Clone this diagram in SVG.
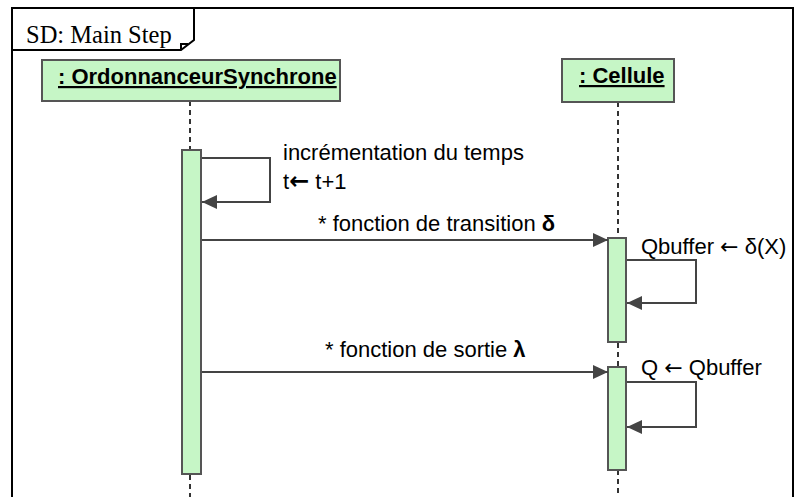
<svg xmlns="http://www.w3.org/2000/svg" width="794" height="497" viewBox="0 0 794 497">
<style>
.frame{fill:none;stroke:#000;stroke-width:2}
.head{fill:#c6f6c6;stroke:#555;stroke-width:2}
.act{fill:#c6f6c6;stroke:#555;stroke-width:2}
.life{stroke:#333;stroke-width:2;stroke-dasharray:5,4;fill:none}
.msg{stroke:#444;stroke-width:2;fill:none}
.lbl{font-family:"Liberation Sans",Arial,sans-serif;font-size:22px;fill:#000}
.ar{font-family:"DejaVu Sans",sans-serif}
.hl{font-family:"Liberation Sans",Arial,sans-serif;font-size:22px;font-weight:bold;fill:#000;text-decoration:underline}
.title{font-family:"Liberation Serif","Times New Roman",serif;font-size:24.5px;fill:#000}
</style>
<defs>
<marker id="arr" markerWidth="15" markerHeight="14" refX="15" refY="7" orient="auto" markerUnits="userSpaceOnUse">
<path d="M0,0 L15,7 L0,14 Z" fill="#444"/>
</marker>
</defs>
<g id="frame">
<path class="frame" d="M12,497 V8 H793 V497"/>
<path class="frame" d="M12,50 H181 L194,40 V8"/>
<path class="frame" d="M181,50 V44 H188" stroke-width="1.5"/>
<text class="title" x="26" y="43">SD: Main Step</text>
</g>
<g id="lifelines">
<path class="life" d="M190,101 V150 M190,475 V497"/>
<path class="life" d="M618,102 V238 M618,343 V367 M618,470 V497"/>
</g>
<g id="ordonnanceur">
<rect class="head" x="42" y="60" width="298" height="41"/>
<text class="hl" x="58" y="84">: OrdonnanceurSynchrone</text>
</g>
<g id="cellule">
<rect class="head" x="562" y="59" width="112" height="43"/>
<text class="hl" x="579" y="83">: Cellule</text>
</g>
<g id="activations">
<rect class="act" x="182" y="150" width="19" height="324"/>
<rect class="act" x="608" y="238" width="18" height="104"/>
<rect class="act" x="608" y="367" width="18" height="103"/>
</g>
<g id="connectors">
<path class="msg" d="M202,158 H270 V202 H202" marker-end="url(#arr)"/>
<path class="msg" d="M202,240 H608" marker-end="url(#arr)"/>
<path class="msg" d="M627,260 H696 V303 H627" marker-end="url(#arr)"/>
<path class="msg" d="M202,372 H608" marker-end="url(#arr)"/>
<path class="msg" d="M627,382 H696 V427 H627" marker-end="url(#arr)"/>
</g>
<g id="labels">
<text class="lbl" x="283" y="160">incrémentation du temps</text>
<text class="lbl" x="283" y="189">t<tspan class="ar" font-weight="bold" font-size="24">←</tspan>  t+1</text>
<text class="lbl" x="318" y="231">* fonction de transition <tspan font-weight="bold">δ</tspan></text>
<text class="lbl" x="641" y="254">Qbuffer <tspan class="ar" font-size="22">←</tspan> δ(X)</text>
<text class="lbl" x="325" y="357">* fonction de sortie <tspan font-weight="bold">λ</tspan></text>
<text class="lbl" x="641" y="375">Q <tspan class="ar" font-size="22">←</tspan> Qbuffer</text>
</g>
</svg>
